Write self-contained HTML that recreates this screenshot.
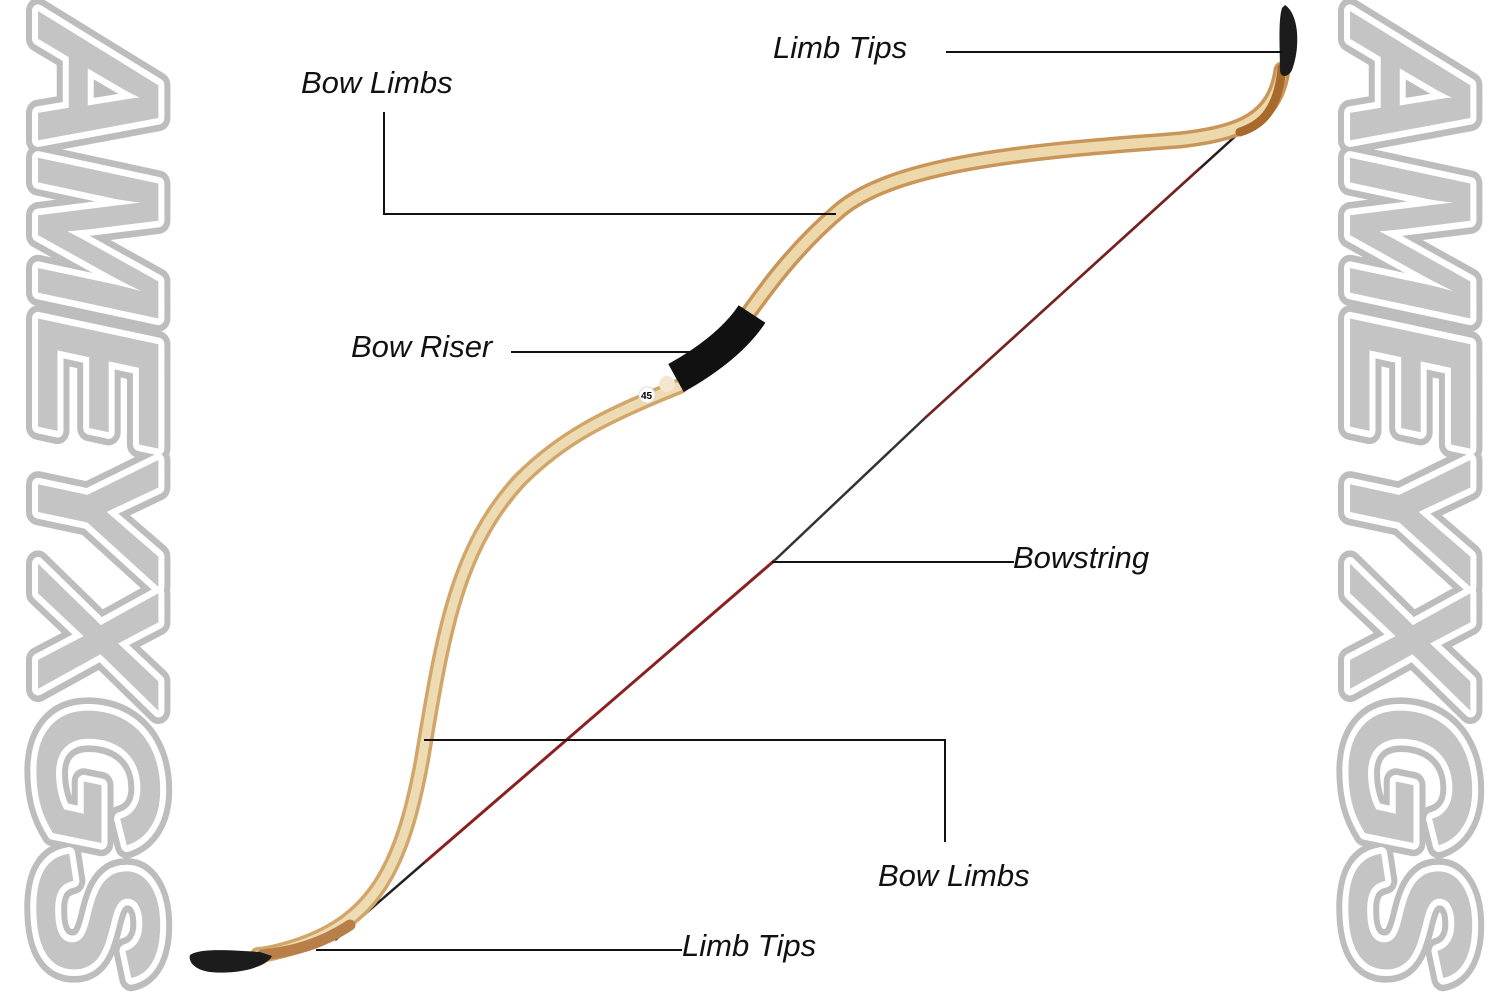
<!DOCTYPE html>
<html><head><meta charset="utf-8"><style>
html,body{margin:0;padding:0;background:#fff;}
svg{display:block}
.lab{font-family:"Liberation Sans",sans-serif;font-style:italic;font-size:31px;fill:#111;}
</style></head><body>
<svg width="1500" height="1000" viewBox="0 0 1500 1000" xmlns="http://www.w3.org/2000/svg">
<!-- watermarks -->
<g font-family="Liberation Sans, sans-serif" font-weight="900" font-style="italic" font-size="175">
<g transform="translate(38,15) rotate(90)">
<text x="0" y="0" textLength="965" lengthAdjust="spacingAndGlyphs" fill="none" stroke="#bdbdbd" stroke-width="24" stroke-linejoin="round">AMEYXGS</text>
<text x="0" y="0" textLength="965" lengthAdjust="spacingAndGlyphs" fill="#c4c4c4" stroke="#fff" stroke-width="12" stroke-linejoin="round" paint-order="stroke">AMEYXGS</text>
</g>
<g transform="translate(1350,15) rotate(90)">
<text x="0" y="0" textLength="965" lengthAdjust="spacingAndGlyphs" fill="none" stroke="#bdbdbd" stroke-width="24" stroke-linejoin="round">AMEYXGS</text>
<text x="0" y="0" textLength="965" lengthAdjust="spacingAndGlyphs" fill="#c4c4c4" stroke="#fff" stroke-width="12" stroke-linejoin="round" paint-order="stroke">AMEYXGS</text>
</g>
</g>
<!-- bowstring -->
<line x1="1262" y1="112" x2="925" y2="418" stroke="#2a1a1a" stroke-width="2.5"/>
<line x1="1200" y1="168" x2="925" y2="418" stroke="#7a2020" stroke-width="2.5"/>
<line x1="925" y1="418" x2="775" y2="560" stroke="#333" stroke-width="2.5"/>
<line x1="775" y1="560" x2="425" y2="862" stroke="#8a2020" stroke-width="3"/>
<line x1="425" y1="862" x2="335" y2="940" stroke="#222" stroke-width="2.5"/>
<!-- limbs -->
<g fill="none" stroke-linecap="round">
<path d="M1282 70 C1275 120 1240 133 1180 140 C1050 150 900 160 840 210 C795 248 765 290 745 318" stroke="#c99558" stroke-width="17"/>
<path d="M1282 70 C1275 120 1240 133 1180 140 C1050 150 900 160 840 210 C795 248 765 290 745 318" stroke="#ecd8ab" stroke-width="10"/>
<path d="M680 386 C600 418 560 440 520 480 C455 550 442 640 422 760 C402 870 372 920 300 945 C285 950 270 954 258 955" stroke="#d2a66a" stroke-width="16"/>
<path d="M680 386 C600 418 560 440 520 480 C455 550 442 640 422 760 C402 870 372 920 300 945 C285 950 270 954 258 955" stroke="#eddcb3" stroke-width="9"/>
<path d="M1282 68 C1278 110 1262 125 1240 132" stroke="#a86a2c" stroke-width="9"/>
<path d="M350 925 C320 945 290 952 262 955" stroke="#b88048" stroke-width="11"/>
</g>
<!-- riser -->
<path d="M752 314 C735 340 705 362 676 378" fill="none" stroke="#111" stroke-width="32" stroke-linecap="butt"/>
<circle cx="667" cy="384" r="8" fill="#f6e6cf"/>
<circle cx="647" cy="395" r="8" fill="#fff" stroke="#ddd"/>
<text x="641" y="399" font-family="Liberation Sans,sans-serif" font-size="10" font-weight="bold" fill="#000">45</text>
<!-- tips -->
<path d="M1285 5 C1300 15 1300 50 1292 70 C1288 78 1280 78 1280 70 C1280 50 1278 20 1282 8 Z" fill="#1c1c1c"/>
<path d="M190 955 C200 948 230 950 260 952 L272 956 C268 966 240 975 210 972 C195 970 188 962 190 955 Z" fill="#1c1c1c"/>
<!-- leader lines -->
<g stroke="#111" stroke-width="2" fill="none">
<polyline points="946,52 1283,52"/>
<polyline points="384,112 384,214 836,214"/>
<polyline points="511,352 690,352"/>
<polyline points="772,562 1014,562"/>
<polyline points="424,740 945,740 945,842"/>
<polyline points="316,950 682,950"/>
</g>
<text class="lab" x="773" y="58">Limb Tips</text>
<text class="lab" x="301" y="93">Bow Limbs</text>
<text class="lab" x="351" y="357">Bow Riser</text>
<text class="lab" x="1013" y="568">Bowstring</text>
<text class="lab" x="878" y="886">Bow Limbs</text>
<text class="lab" x="682" y="956">Limb Tips</text>
</svg>
</body></html>
